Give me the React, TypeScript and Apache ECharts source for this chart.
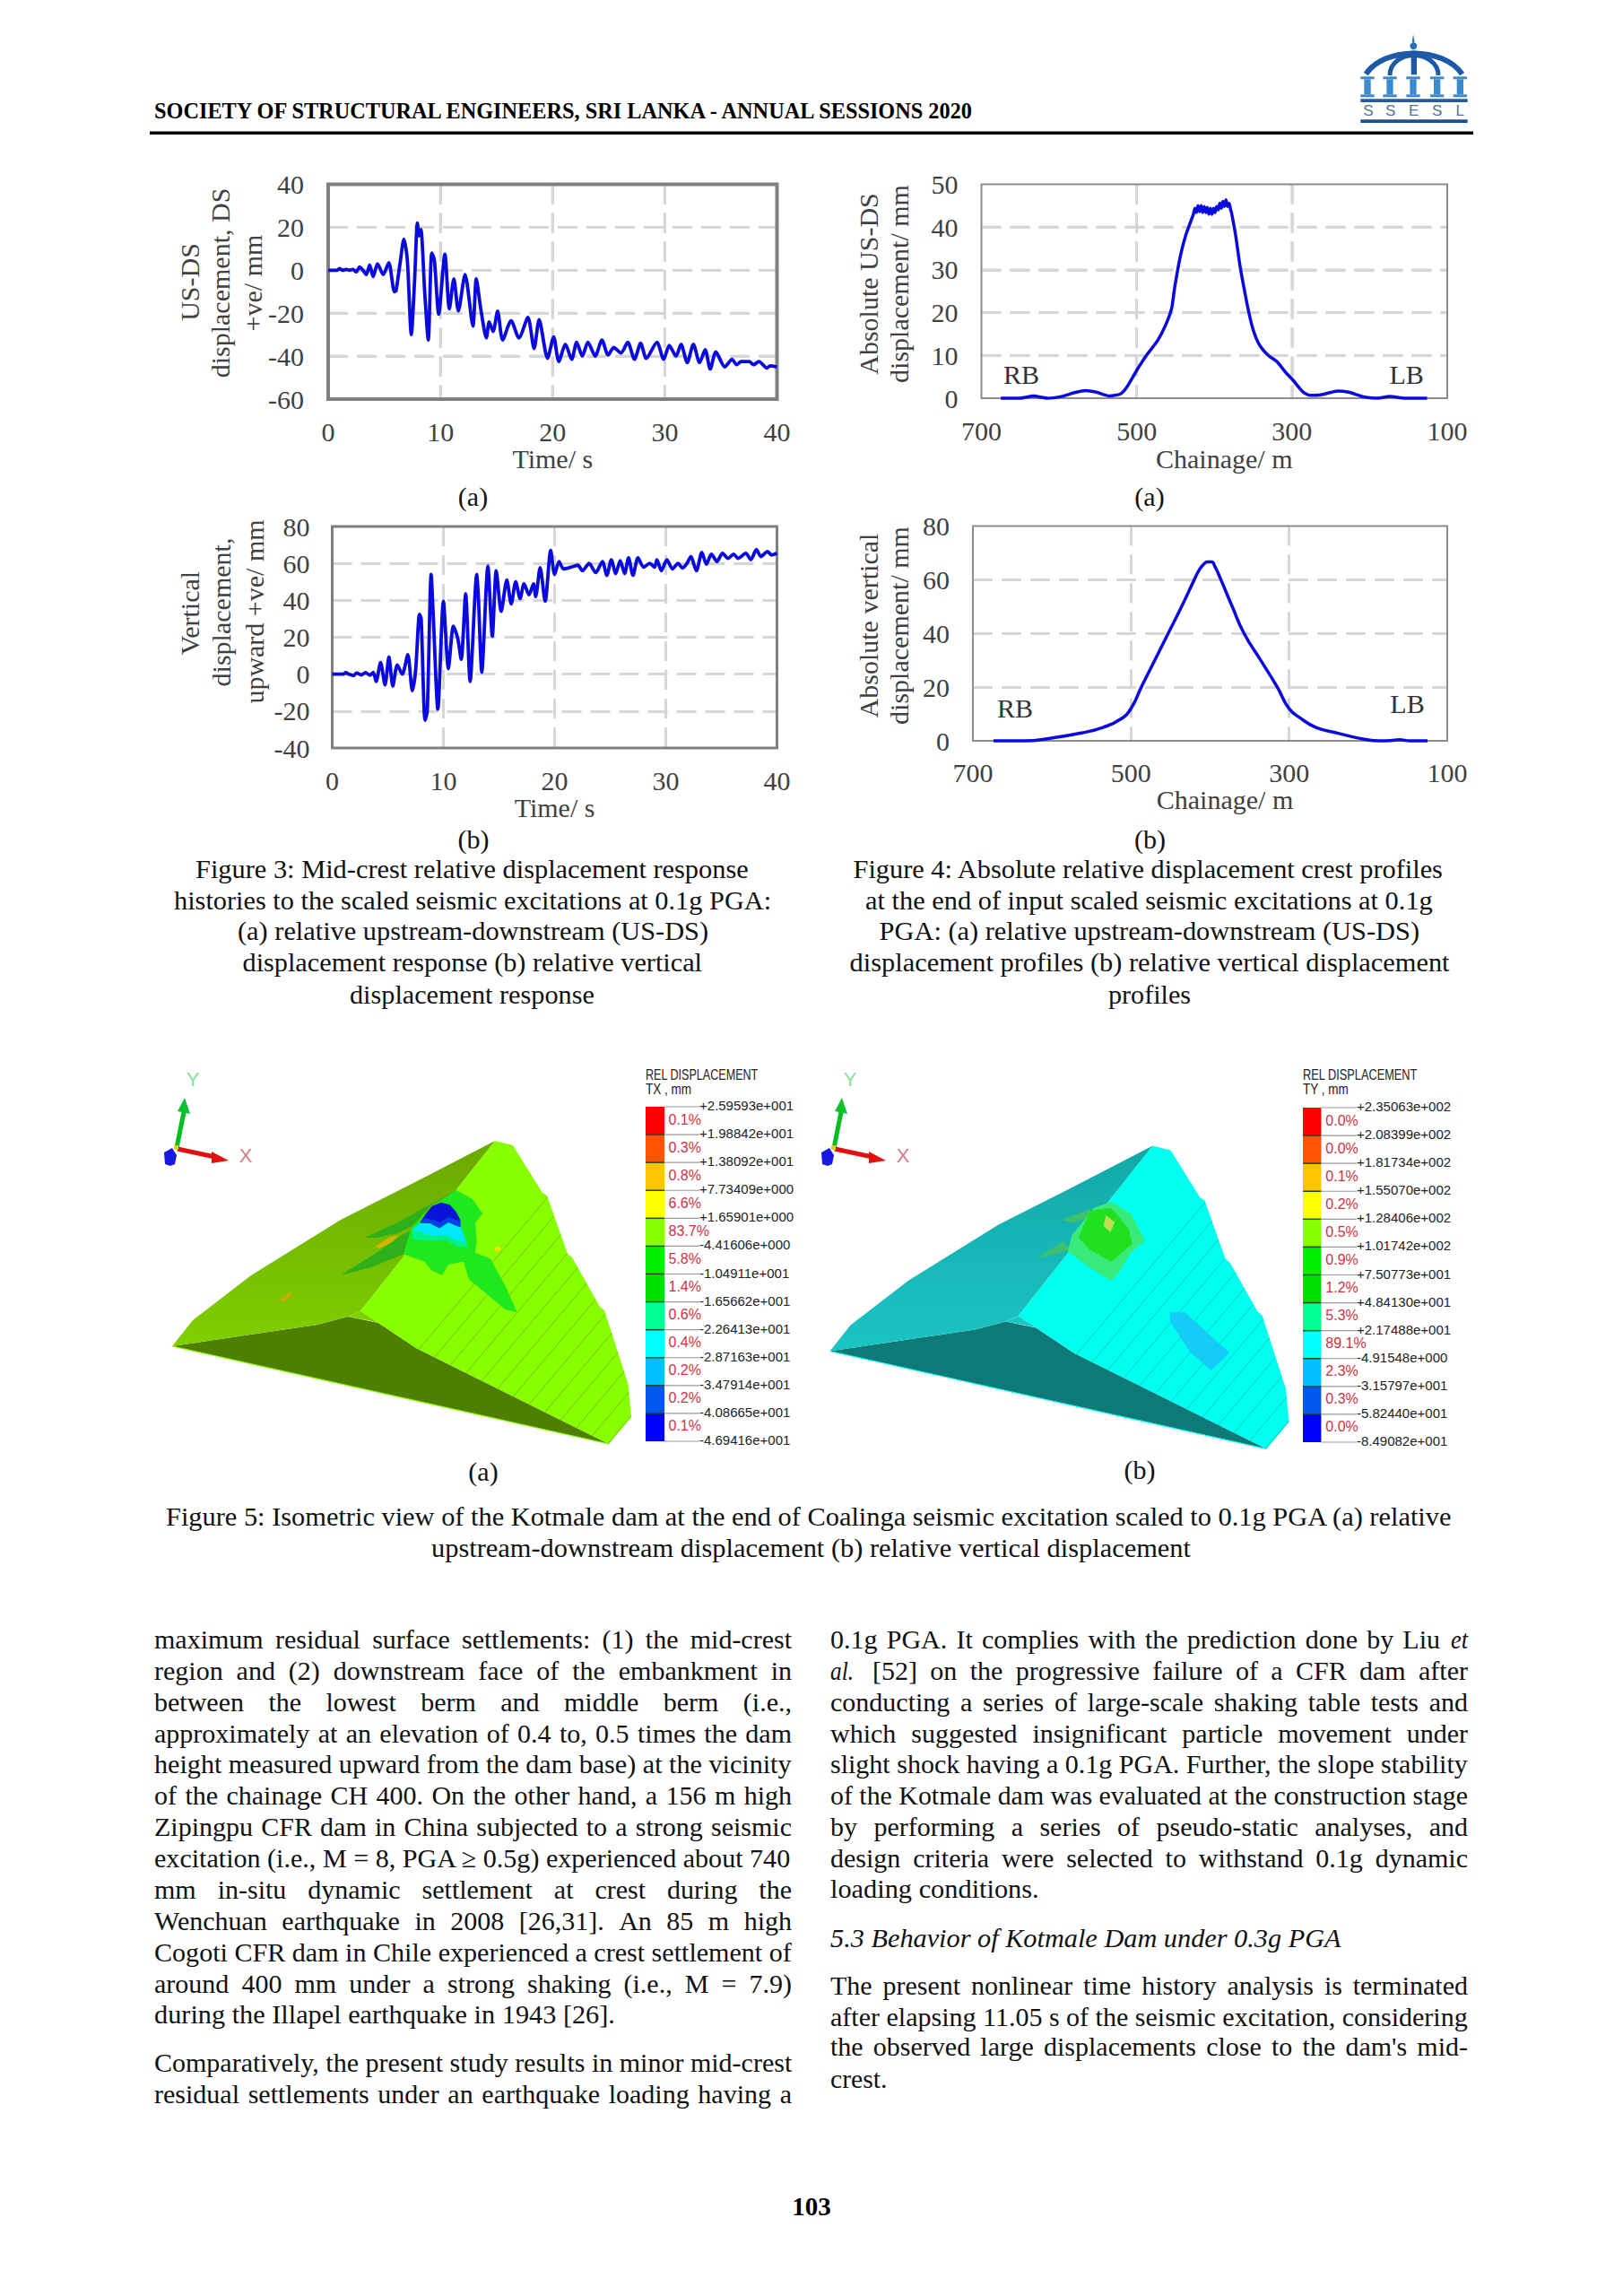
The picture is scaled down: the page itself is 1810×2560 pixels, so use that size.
import React, { useEffect, useRef } from "react";
import * as echarts from "echarts";

type P = [number, number];

// ---------- series ----------
const usDsHistory: P[] = [
  [0,0],[0.8,0],[1.0,0.8],[1.3,0],[1.6,0.4],[1.9,0],[2.2,0.4],[2.5,-0.8],[2.8,1.5],[3.1,0],[3.4,-2],[3.7,2.5],[4.0,-3],[4.4,3],[4.9,-2],[5.4,3.5],
  [5.9,-10],[6.05,-9.5],[6.4,3],[6.75,14.5],[7.05,5],[7.41,-30],[7.7,-5],[7.95,22],[8.1,16],[8.26,19],[8.6,-10],[8.92,-32.5],[9.23,8],[9.46,5],[9.85,-20.5],
  [10.4,7.5],[10.8,-18],[11.2,-4],[11.6,-19],[12.2,-2],[12.9,-26],[13.2,-4],[13.6,-18],[14.1,-31.5],[14.35,-24],[14.7,-28.5],[15.1,-19],[15.55,-32.5],[16.3,-23.5],[17,-31.5],[17.8,-22],[18.35,-36.5],[18.8,-23],
  [19.55,-41],[20.1,-31],[20.55,-42.5],[21.15,-34.5],[21.7,-41.5],[22.15,-33.5],[22.65,-40],[23.15,-33.5],[23.8,-40],[24.4,-32.5],[24.95,-39.5],[25.45,-36],[26.1,-38.5],[26.7,-33.5],[27.3,-41.5],[27.85,-34],[28.35,-41],[29.3,-33.5],
  [29.9,-41.5],[30.4,-35],[31,-40],[31.45,-34.5],[32,-43],[32.55,-34.5],[33.1,-43],[33.6,-37],[34.05,-46],[34.55,-38],[35.35,-45],[36,-41.5],[36.4,-44],[36.8,-42.5],[37.55,-42.5],[37.9,-44],[38.4,-42.5],[39.1,-45.5],[39.4,-44.5],[40,-45],
];
const verticalHistory: P[] = [
  [0,0],[1.0,0],[1.2,0.8],[1.5,0],[1.9,-0.8],[2.2,0.6],[2.6,-0.4],[3.0,0.8],[3.4,-0.6],[3.7,1],[3.95,-4],[4.35,6.3],[4.75,-5.8],[5.1,9.3],[5.45,-6.5],[5.85,5],[6.3,0],[6.8,10.6],[7.2,-9],[7.5,2],[7.85,32.4],[8.0,30],[8.35,-25],[8.55,-20],[8.9,54],[9.1,30],[9.5,-19],[10,39.5],[10.45,3],[10.9,26],[11.3,19],[11.6,8],[12,43.5],[12.4,-4],[13,54],[13.15,41],[13.45,1],[14,58.6],[14.4,20.5],[14.75,56],[15.2,34],[15.7,51],[16.1,38],[16.5,50],[16.9,41],[17.25,49],[17.7,43],[18.1,49],[18.3,42],[18.7,57.7],[19.15,39.5],[19.65,67],
  [20,54],[20.4,61],[20.8,57],[21.5,58],[22.1,59],[22.5,56],[23.1,60],[23.7,55],[24.3,61],[24.7,53.5],[25.1,62],[25.5,54.5],[25.9,61.5],[26.3,54.5],[26.65,63],[27.05,53.5],[27.5,63],[28,58],[28.55,60],[29,58],[29.2,62],[29.6,56],[30.1,62],[30.6,57],[31.1,60],[31.5,57.5],[31.9,60],[32.25,63.7],[32.75,56],[33.25,66],[33.65,59.5],[34.1,65],[34.6,61],[35.1,65.5],[35.6,62.7],[36.1,65],[36.5,62.7],[37.2,65.5],[37.65,62],[38.15,67.5],[38.55,63.7],[39.15,66.5],[39.5,64.5],[40,65.5],
];
const usDsProfile: P[] = [
  [675,0],[650,0],[633,0.5],[615,0],[597,0.4],[580,1.3],[566,1.8],[552,1.4],[535,0.5],[521,1],[513,2.5],[500,6.5],[487.5,10],[473,13.5],[463,17],[455,21],[451,26],[444,33],[437,38],[429,42],
  [427,43],[425,44.4],[423,43.4],[421,45],[419,43.6],[417,45],[415,43.4],[413,44.8],[411,43.4],[409,44.6],[407,43],[405,44.4],[403,43],[401,44.4],[399,43.4],[397,44.8],[395,44],[393,45.6],[391,44.4],[389,46],[387,44.8],[385,46.4],[383,44.8],[381,45.6],[379,44],
  [378,43.5],[372.5,38],[367,31],[361,25],[355.5,20],[350,16],[342,12.5],[330.5,10],[319,8.5],[308,6],[300,4.5],[286,1.5],[277,0.7],[263,0.8],[241,1.7],[227,1.4],[207,0.3],[190,0],[174,0.4],[154.5,0],[126,0],
];
const verticalProfile: P[] = [
  [674,0],[634.5,0],[601,1],[563,2.9],[535.5,5],[513.5,8],[500,12],[487,20],[470,30],[453,40],[436,50],[420,60],[414,63.5],[408,65.8],[403,66.6],[398,66.6],[394,65],[387,60.5],[372,50],[357,40],[336,30],[315,20],[300,12],[285,8.3],[266,5],[238,2.8],[205,0.6],[186,0],[172,0.1],[161,0.4],[147,0],[125,0],
];

const usDsTicks = [-60, -40, -20, 0, 20, 40];
const usDsProfileTicks = [0, 10, 20, 30, 40, 50];
const verticalTicks = [-40, -20, 0, 20, 40, 60, 80];
const verticalProfileTicks = [0, 20, 40, 60, 80];

// ---------- contour legends ----------
const contourColors = ["#ff0000","#ff5500","#ffc400","#ffff00","#88ff00","#00f000","#00e000","#00ff94","#00ffff","#00c0ff","#0058f0","#0000ff"];
const txLabels = ["+2.59593e+001","+1.98842e+001","+1.38092e+001","+7.73409e+000","+1.65901e+000","-4.41606e+000","-1.04911e+001","-1.65662e+001","-2.26413e+001","-2.87163e+001","-3.47914e+001","-4.08665e+001","-4.69416e+001"];
const txPercents = ["0.1%","0.3%","0.8%","6.6%","83.7%","5.8%","1.4%","0.6%","0.4%","0.2%","0.2%","0.1%"];
const tyLabels = ["+2.35063e+002","+2.08399e+002","+1.81734e+002","+1.55070e+002","+1.28406e+002","+1.01742e+002","+7.50773e+001","+4.84130e+001","+2.17488e+001","-4.91548e+000","-3.15797e+001","-5.82440e+001","-8.49082e+001"];
const tyPercents = ["0.0%","0.0%","0.1%","0.2%","0.5%","0.9%","1.2%","5.3%","89.1%","2.3%","0.3%","0.0%"];

// ---------- page text: [text, x0, x1, yCentre] ----------
type Line = [string, number, number, number];
const captionLines: Line[] = [
  ["Figure 3: Mid-crest relative displacement response",218,835,971],
  ["histories to the scaled seismic excitations at 0.1g PGA:",194,860,1006],
  ["(a) relative upstream-downstream (US-DS)",265,790,1040],
  ["displacement response (b) relative vertical",270.5,783,1075],
  ["displacement response",390,663,1111],
  ["Figure 4: Absolute relative displacement crest profiles",951.5,1611,971],
  ["at the end of input scaled seismic excitations at 0.1g",965,1598,1006],
  ["PGA: (a) relative upstream-downstream (US-DS)",980.6,1583,1040],
  ["displacement profiles (b) relative vertical displacement",947.6,1616.5,1075],
  ["profiles",1236,1328,1111],
  ["Figure 5: Isometric view of the Kotmale dam at the end of Coalinga seismic excitation scaled to 0.1g PGA (a) relative",185,1620,1693],
  ["upstream-downstream displacement (b) relative vertical displacement",481,1328,1728],
];
const bodyLines: Line[] = [
  ["maximum residual surface settlements: (1) the mid-crest",172,883,1829],
  ["region and (2) downstream face of the embankment in",172,883,1864],
  ["between the lowest berm and middle berm (i.e.,",172,883,1899],
  ["approximately at an elevation of 0.4 to, 0.5 times the dam",172,883,1934],
  ["height measured upward from the dam base) at the vicinity",172,883,1968.5],
  ["of the chainage CH 400. On the other hand, a 156 m high",172,883,2003],
  ["Zipingpu CFR dam in China subjected to a strong seismic",172,883,2038],
  ["excitation (i.e., M = 8, PGA \u2265 0.5g) experienced about 740",172,883,2073],
  ["mm in-situ dynamic settlement at crest during the",172,883,2108],
  ["Wenchuan earthquake in 2008 [26,31]. An 85 m high",172,883,2143],
  ["Cogoti CFR dam in Chile experienced a crest settlement of",172,883,2178],
  ["around 400 mm under a strong shaking (i.e., M = 7.9)",172,883,2213],
  ["during the Illapel earthquake in 1943 [26].",172,686,2248],
  ["Comparatively, the present study results in minor mid-crest",172,883,2301],
  ["residual settlements under an earthquake loading having a",172,883,2336],
  ["0.1g PGA. It complies with the prediction done by Liu",926,1606,1829],
  ["[52] on the progressive failure of a CFR dam after",973,1637,1864],
  ["conducting a series of large-scale shaking table tests and",926,1637,1899],
  ["which suggested insignificant particle movement under",926,1637,1934],
  ["slight shock having a 0.1g PGA. Further, the slope stability",926,1637,1968.5],
  ["of the Kotmale dam was evaluated at the construction stage",926,1637,2003],
  ["by performing a series of pseudo-static analyses, and",926,1637,2038],
  ["design criteria were selected to withstand 0.1g dynamic",926,1637,2073],
  ["loading conditions.",926,1158.7,2108],
  ["The present nonlinear time history analysis is terminated",926,1637,2215],
  ["after elapsing 11.05 s of the seismic excitation, considering",926,1637,2250],
  ["the observed large displacements close to the dam's mid-",926,1637,2283],
  ["crest.",926,989.5,2319],
];
const italicLines: Line[] = [
  ["et",1618,1637,1829],
  ["al.",926,952,1864],
  ["5.3 Behavior of Kotmale Dam under 0.3g PGA",926,1496,2162.5],
];
const subLabels: [string, number, number][] = [["(a)",527.5,555],["(a)",1282,555],["(b)",528,937],["(b)",1282.6,937],["(a)",539,1642],["(b)",1271,1640]];

const SERIF = "Liberation Serif";
const SANS = "Liberation Sans";
const DY = -1.5;
const measure = document.createElement("canvas").getContext("2d")!;
const fontOf = (o: any) => `${o.fontStyle ?? "normal"} ${o.fontWeight ?? "normal"} ${o.fontSize ?? 30}px "${o.fontFamily ?? SERIF}"`;

function fit(text: string, x0: number, x1: number, y: number, o: any = {}) {
  measure.font = fontOf(o);
  const w = measure.measureText(text).width;
  return { type: "text", x: x0, y: y + DY, scaleX: (x1 - x0) / w, silent: true,
    style: { text, fontSize: o.fontSize ?? 30, fontFamily: o.fontFamily ?? SERIF, fontWeight: o.fontWeight ?? "normal", fontStyle: o.fontStyle ?? "normal", fill: o.fill ?? "#111", align: "left", verticalAlign: "middle" } };
}
// A loose justified line keeps its glyph size and opens its word gaps, as the page does.
function justify(text: string, x0: number, x1: number, y: number) {
  measure.font = fontOf({});
  const whole = measure.measureText(text).width;
  const target = x1 - x0;
  if (target / whole < 1.012) return [fit(text, x0, x1, y)];
  const words = text.split(" ");
  const widths = words.map((w) => measure.measureText(w).width);
  const gap = (target - widths.reduce((a, b) => a + b, 0)) / (words.length - 1);
  let x = x0;
  return words.map((w, i) => {
    const el = fit(w, x, x + widths[i], y);
    x += widths[i] + gap;
    return el;
  });
}
function label(text: string, x: number, y: number, o: any = {}) {
  return { type: "text", x, y: y + DY, rotation: o.rotation ?? 0, silent: true,
    style: { text, fontSize: o.fontSize ?? 30, fontFamily: o.fontFamily ?? SERIF, fontWeight: o.fontWeight ?? "normal", fill: o.fill ?? "#111", align: o.align ?? "center", verticalAlign: "middle" } };
}
const poly = (points: number[][], fill: any) => ({ type: "polygon", silent: true, shape: { points }, style: { fill } });
const seg = (points: number[][], stroke: string, lineWidth: number) => ({ type: "polyline", silent: true, shape: { points }, style: { stroke, lineWidth, fill: "none" } });
const rect = (x: number, y: number, width: number, height: number, fill: string) => ({ type: "rect", silent: true, shape: { x, y, width, height }, style: { fill } });
const frame = (b: number[], stroke: string, lineWidth: number) => ({ type: "rect", silent: true, z: 3, shape: { x: b[0], y: b[1], width: b[2] - b[0], height: b[3] - b[1] }, style: { fill: "none", stroke, lineWidth } });
const piece = (x: number, y: number, width: number, height: number) => ({ type: "rect", silent: true, z: 3, shape: { x, y, width, height }, style: { fill: "#d6d6d6" } });

// Inner grid dashes of a panel as filled pieces, placed from its tick arrays.
function dashPieces(b: number[], xFractions: number[], yTicks: number[]) {
  const [l, t, r, bot] = b;
  const lo = yTicks[0], hi = yTicks[yTicks.length - 1];
  const out: any[] = [];
  xFractions.forEach((f) => {
    const x = l + f * (r - l);
    for (let y = t; y < bot; y += 32) out.push(piece(x - 1.5, y, 3, Math.min(22, bot - y)));
  });
  yTicks.slice(1, -1).forEach((v) => {
    const y = bot - ((v - lo) / (hi - lo)) * (bot - t);
    for (let x = l; x < r; x += 32) out.push(piece(x, y - 1.5, Math.min(22, r - x), 3));
  });
  return out;
}

function clipStripe(shape: number[][], px: number, py: number, dx: number, dy: number) {
  const ts: number[] = [];
  for (let i = 0; i < shape.length; i++) {
    const [ax, ay] = shape[i], [bx, by] = shape[(i + 1) % shape.length];
    const ex = bx - ax, ey = by - ay, den = dx * ey - dy * ex;
    if (Math.abs(den) < 1e-9) continue;
    const t = ((ax - px) * ey - (ay - py) * ex) / den;
    const u = ((ax - px) * dy - (ay - py) * dx) / den;
    if (u >= 0 && u < 1) ts.push(t);
  }
  ts.sort((a, b) => a - b);
  const out: number[][][] = [];
  for (let i = 0; i + 1 < ts.length; i += 2) out.push([[px + dx * ts[i], py + dy * ts[i]], [px + dx * ts[i + 1], py + dy * ts[i + 1]]]);
  return out;
}

function dam(ox: number, oy: number, c: { dark: string; slopeTop: string; slopeBot: string; face: string; berm: string; stripe: string }) {
  const m = (pts: number[][]) => pts.map(([x, y]) => [x + ox, y + oy]);
  const darkFace = m([[192,1501],[354,1477],[388,1468],[422,1475],[464,1503],[679,1610]]);
  const slope = m([[192,1501],[215,1472],[280,1422],[380,1360],[463,1318],[552,1272],[402,1462],[388,1468],[354,1477]]);
  const face = m([[552,1272],[572,1277],[605,1330],[610,1333],[633,1398],[638,1402],[669,1457],[674,1461],[700.5,1543],[704,1580],[679,1610],[464,1503],[422,1475],[402,1462]]);
  const berm = m([[388,1468],[402,1462],[422,1475],[410,1472]]);
  const els: any[] = [
    poly(darkFace, c.dark),
    poly(slope, new echarts.graphic.LinearGradient(0, 0, 0, 1, [{ offset: 0, color: c.slopeTop }, { offset: 1, color: c.slopeBot }])),
    poly(face, c.face),
    poly(berm, c.slopeBot),
    seg(m([[192,1501],[679,1610]]), c.face, 1.2),
  ];
  for (let k = -2; k < 20; k++) {
    for (const s of clipStripe(face, 470 + ox + k * 25, 1560 + oy, 1, -1.18)) els.push(seg(s, c.stripe, 0.8));
  }
  return els;
}

const c9 = (pts: number[][]) => pts.map(([x, y]) => [180 + x / 3, 1190 + y / 3]);
const c6 = (pts: number[][]) => pts.map(([x, y]) => [900 + x / 2.063, 1180 + y / 3]);

function damA() {
  return [
    ...dam(0, 0, { dark: "#4f7f00", slopeTop: "#6aa800", slopeBot: "#7ed000", face: "#88ff00", berm: "#7ed000", stripe: "#66b800" }),
    poly(c9([[680,570],[790,520],[985,412],[900,465],[840,530],[790,555],[720,570]]), "#2eb01a"),
    poly(c9([[600,695],[720,620],[800,565],[835,545],[810,625],[700,670]]), "#2eb01a"),
    poly(c9([[985,410],[1040,440],[1075,490],[1050,520],[1055,580],[1050,620],[1100,640],[1150,730],[1190,820],[1150,810],[1090,760],[1030,710],[1010,650],[960,660],[940,695],[905,680],[880,650],[810,625],[835,540],[900,470]]), "#1fe81f"),
    poly(c9([[838,540],[865,520],[1000,530],[1028,600],[990,600],[950,580],[890,580],[840,575]]), "#00f08c"),
    poly(c9([[840,545],[865,520],[900,525],[930,540],[960,520],[1000,530],[1020,585],[990,580],[950,560],[905,565],[865,550]]), "#00e8ff"),
    poly(c9([[865,520],[885,490],[905,465],[935,452],[965,460],[985,482],[1000,510],[1000,535],[960,518],[930,538],[900,522]]), "#0a14d8"),
    poly(c9([[865,520],[880,505],[910,510],[932,520],[960,500],[1000,515],[1000,535],[960,518],[930,538],[900,522]]), "#0440e8"),
    poly(c9([[715,600],[760,570],[795,560],[770,585],[730,605]]), "#d8b400"),
    poly(c9([[395,780],[430,752],[437,762],[405,785]]), "#d8a800"),
    poly(c9([[1112,608],[1125,598],[1138,608],[1125,618]]), "#ffe000"),
  ];
}
function damB() {
  return [
    ...dam(733.5, 5.5, { dark: "#0d7a78", slopeTop: "#12a8a8", slopeBot: "#1cc4c4", face: "#00ffee", berm: "#1cc4c4", stripe: "#00c0b8" }),
    poly(c6([[835,850],[870,850],[930,930],[972,985],[930,1045],[880,980],[835,880]]), "#14ccf5"),
    poly(c6([[585,540],[650,505],[660,530],[610,550]]), "#3fbf70"),
    poly(c6([[530,665],[590,612],[605,640],[560,660]]), "#3fbf70"),
    poly(c6([[660,500],[700,480],[745,520],[778,610],[745,650],[720,710],[700,745],[650,700],[600,645],[610,590]]), "#38ea7a"),
    poly(c6([[650,510],[700,500],[740,570],[748,620],[700,680],[650,640],[625,600]]), "#20e020"),
    poly(c6([[688,525],[708,548],[698,582],[682,560]]), "#b8e050"),
  ];
}

function triad(ox: number) {
  const a = (pts: number[][]) => pts.map(([x, y]) => [x + ox, y]);
  return [
    seg(a([[197,1280],[205,1240]]), "#00c020", 5),
    poly(a([[206,1224],[212,1242],[198,1239]]), "#10c030"),
    seg(a([[198,1281],[240,1290]]), "#e01010", 5),
    poly(a([[255,1294],[236,1284],[236,1297]]), "#e01010"),
    poly(a([[183,1285],[192,1280],[197,1288],[195,1298],[190,1300],[184,1298]]), "#1818e0"),
    rect(194 + ox, 1277, 5, 5, "#e0d020"),
    label("Y", 215 + ox, 1205, { fontFamily: SANS, fontSize: 22, fill: "#80e0a0" }),
    label("X", 274 + ox, 1290, { fontFamily: SANS, fontSize: 22, fill: "#d87c8c" }),
  ];
}

function legend(x0: number, x1: number, top: number, bottom: number, labelX: number, pctX: number, title: string, unit: string, titleEnd: number, unitEnd: number, labels: string[], pcts: string[]) {
  const els: any[] = [
    fit(title, x0, titleEnd, 1200, { fontFamily: SANS, fontSize: 16, fill: "#222" }),
    fit(unit, x0, unitEnd, 1216, { fontFamily: SANS, fontSize: 16, fill: "#222" }),
  ];
  const h = (bottom - top) / contourColors.length;
  contourColors.forEach((c, i) => els.push(rect(x0, top + i * h, x1 - x0, h, c)));
  labels.forEach((t, i) => {
    const y = top + i * h;
    if (i > 0 && i < labels.length - 1) els.push(seg([[x0, y], [x1, y]], "#1a4a1a", 1.5));
    els.push(seg([[x1, y], [labelX, y]], "#999", 1.2));
    els.push(label(t, labelX, y, { fontFamily: SANS, fontSize: 15, fill: "#222", align: "left" }));
  });
  pcts.forEach((t, i) => els.push(label(t, pctX, top + (i + 0.5) * h, { fontFamily: SANS, fontSize: 16, fill: "#cc3344", align: "left" })));
  return els;
}

function logo() {
  const a = (pts: number[][]) => pts.map(([x, y]) => [1500 + x / 3, 20 + y / 3]);
  const col = "#3a8ad0", dk = "#1c5aa8", els: any[] = [];
  const curve = (p: number[], w: number) => ({ type: "bezierCurve", silent: true,
    shape: { x1: 1500 + p[0] / 3, y1: 20 + p[1] / 3, cpx1: 1500 + p[2] / 3, cpy1: 20 + p[3] / 3, cpx2: 1500 + p[4] / 3, cpy2: 20 + p[5] / 3, x2: 1500 + p[6] / 3, y2: 20 + p[7] / 3 },
    style: { stroke: dk, lineWidth: w, fill: "none" } });
  els.push(curve([70,188,130,95,330,95,392,188], 6));
  els.push(curve([150,192,150,150,190,125,228,125], 5));
  els.push(curve([312,192,312,150,270,125,232,125], 5));
  els.push(poly(a([[221,110],[240,110],[240,190],[221,190]]), dk));
  els.push(poly(a([[228,55],[233,82],[224,82]]), "#2a70b4"));
  els.push({ type: "circle", silent: true, shape: { cx: 1500 + 229 / 3, cy: 20 + 94 / 3, r: 4 }, style: { fill: "#2a70b4" } });
  [75,150,228,308,385].forEach((cx) => {
    els.push(poly(a([[cx-23,196],[cx+23,196],[cx+23,205],[cx-23,205]]), col));
    els.push(poly(a([[cx-11,205],[cx+11,205],[cx+11,256],[cx-11,256]]), col));
    els.push(poly(a([[cx-23,256],[cx+23,256],[cx+23,265],[cx-23,265]]), col));
  });
  els.push(poly(a([[52,271],[410,271],[410,282],[52,282]]), "#2a5a9a"));
  [["S",78],["S",152],["E",230],["S",308],["L",385]].forEach(([t, x]: any) =>
    els.push(label(t, 1500 + x / 3, 20 + 315 / 3, { fontFamily: SANS, fontSize: 17, fill: "#50729c" })));
  els.push(poly(a([[52,340],[410,340],[410,351],[52,351]]), "#1f4f96"));
  return els;
}

const LINE = "#0a0adf";
const gridLine = () => ({ show: true, showMinLine: false, showMaxLine: false, lineStyle: { color: "#d6d6d6", width: 3, type: [22, 10] } });
const TICK = { fontFamily: SERIF, fontSize: 30, color: "#404040" };
const NAME = { fontFamily: SERIF, fontSize: 30, color: "#404040" };

const boxes = [
  [366, 205.5, 866.5, 445],
  [1094.5, 205.5, 1614, 444],
  [370.5, 587, 866.5, 834],
  [1085, 586.5, 1614, 826],
];
const gridOf = (b: number[]) => ({ left: b[0], top: b[1], width: b[2] - b[0], height: b[3] - b[1], show: false });

function xTime(gridIndex: number, margin: number, nameGap: number) {
  return { type: "value", gridIndex, min: 0, max: 40, interval: 10, name: "Time/ s", nameLocation: "middle", nameGap, nameTextStyle: NAME,
    axisLine: { show: false }, axisTick: { show: false }, axisLabel: { ...TICK, margin }, splitLine: gridLine() };
}
// The chainage axis runs 700 -> 100; its ticks are counted from 0 as (chainage - 100).
function xChain(gridIndex: number, margin: number, nameGap: number, shift: number) {
  return { type: "value", gridIndex, min: 0, max: 600, interval: 200, inverse: true, name: "Chainage/ m", nameLocation: "middle", nameGap,
    nameTextStyle: { ...NAME, padding: [0, 0, 0, shift] },
    axisLine: { show: false }, axisTick: { show: false }, axisLabel: { ...TICK, margin, formatter: (v: number) => String(v + 100) }, splitLine: gridLine() };
}
function yVal(gridIndex: number, ticks: number[], margin: number) {
  return { type: "value", gridIndex, min: ticks[0], max: ticks[ticks.length - 1], interval: ticks[1] - ticks[0],
    axisLine: { show: false }, axisTick: { show: false }, axisLabel: { ...TICK, margin }, splitLine: gridLine() };
}
const trace = (i: number, data: number[][], smooth: number, lineWidth: number) => ({
  type: "line", xAxisIndex: i, yAxisIndex: i, data, showSymbol: false, smooth, lineStyle: { color: LINE, width: lineWidth }, silent: true, clip: false, z: 5,
});
const toAxis = (p: P[]) => p.map(([c, v]) => [c - 100, v]);

export default function App() {
  const ref = useRef<HTMLDivElement>(null);
  useEffect(() => {
    const chart = echarts.init(ref.current!, undefined, { renderer: "svg" });
    const rot = { rotation: Math.PI / 2, fill: "#404040" };
    const elements: any[] = [
      ...dashPieces(boxes[0], [0.25, 0.5, 0.75], usDsTicks),
      ...dashPieces(boxes[1], [1 / 3, 2 / 3], usDsProfileTicks),
      frame(boxes[0], "#808080", 4),
      frame(boxes[1], "#8c8c8c", 2),
      frame(boxes[2], "#808080", 3),
      frame(boxes[3], "#8c8c8c", 2),
      fit("SOCIETY OF STRUCTURAL ENGINEERS, SRI LANKA - ANNUAL SESSIONS 2020", 172, 1092, 125, { fontSize: 25, fontWeight: "bold", fill: "#000" }),
      rect(167, 146.5, 1476, 3.5, "#000"),
      ...logo(),
      label("US-DS", 211, 316, rot),
      label("displacement, DS", 245, 317, rot),
      label("+ve/ mm", 281, 317, rot),
      label("Absolute US-DS", 968.5, 318, rot),
      label("displacement/ mm", 1002, 318, rot),
      label("Vertical", 211, 685, rot),
      label("displacement,", 246, 684, rot),
      label("upward +ve/ mm", 283.6, 683.5, rot),
      label("Absolute vertical", 968.5, 699, rot),
      label("displacement/ mm", 1002, 699, rot),
      label("RB", 1139, 418.6, { fill: "#333" }),
      label("LB", 1568.6, 418.6, { fill: "#333" }),
      label("RB", 1132, 790.8, { fill: "#333" }),
      label("LB", 1569.5, 785.8, { fill: "#333" }),
      ...subLabels.map(([t, x, y]) => label(t, x, y)),
      ...captionLines.map(([t, a, b, y]) => fit(t, a, b, y)),
      ...bodyLines.flatMap(([t, a, b, y]) => justify(t, a, b, y)),
      ...italicLines.map(([t, a, b, y]) => fit(t, a, b, y, { fontStyle: "italic" })),
      label("103", 905, 2461, { fontWeight: "bold", fontSize: 29, fill: "#000" }),
      ...damA(),
      ...damB(),
      ...triad(0),
      ...triad(733),
      ...legend(720, 741, 1234, 1607, 780, 745.5, "REL DISPLACEMENT", "TX , mm", 846, 771, txLabels, txPercents),
      ...legend(1453, 1473.4, 1235, 1608, 1513, 1478.3, "REL DISPLACEMENT", "TY , mm", 1581, 1504, tyLabels, tyPercents),
    ];
    chart.setOption({
      animation: false,
      backgroundColor: "#ffffff",
      grid: boxes.map(gridOf),
      xAxis: [xTime(0, 21, 51), xChain(1, 21, 52, 22), xTime(2, 21, 35), xChain(3, 20, 48, 33)],
      yAxis: [yVal(0, usDsTicks, 27), yVal(1, usDsProfileTicks, 26), yVal(2, verticalTicks, 25), yVal(3, verticalProfileTicks, 26)],
      series: [
        trace(0, usDsHistory, 0.25, 3.8),
        trace(1, toAxis(usDsProfile), 0.2, 3.5),
        trace(2, verticalHistory, 0.25, 3.8),
        trace(3, toAxis(verticalProfile), 0.5, 3.5),
      ],
      graphic: { elements },
    });
    return () => chart.dispose();
  }, []);
  return <div ref={ref} style={{ position: "absolute", left: 0, top: 0, width: 1810, height: 2560 }} />;
}
